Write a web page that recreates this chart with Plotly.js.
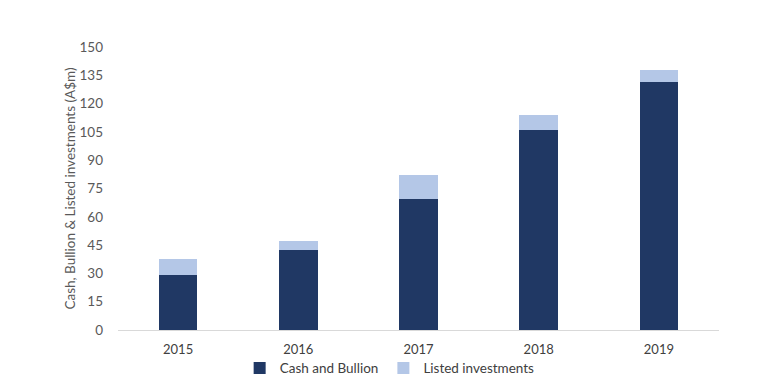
<!DOCTYPE html>
<html>
<head>
<meta charset="utf-8">
<script src="https://cdn.plot.ly/plotly-3.0.1.min.js"></script>
<style>html,body{margin:0;padding:0;background:#fff;}#chart{width:763px;height:380px;}</style>
</head>
<body>
<div id="chart"></div>
<script>
const years = ["2015", "2016", "2017", "2018", "2019"];
const cashAndBullion = [29.4, 42.5, 69.5, 106.1, 131.2];
const listedInvestments = [8.0, 4.9, 12.4, 7.9, 6.8];
const yTicks = [0, 15, 30, 45, 60, 75, 90, 105, 120, 135, 150];

const font = "Lato, 'Open Sans', sans-serif";
const data = [
  {type: "bar", name: "Cash and Bullion", x: years, y: cashAndBullion,
   marker: {color: "#203864"}, hoverinfo: "none"},
  {type: "bar", name: "Listed investments", x: years, y: listedInvestments,
   marker: {color: "#B4C7E7"}, hoverinfo: "none"}
];
const layout = {
  width: 763, height: 380,
  margin: {l: 118, r: 44, t: 47, b: 50, autoexpand: false},
  barmode: "stack",
  bargap: 0.68,
  paper_bgcolor: "#fff", plot_bgcolor: "#fff",
  font: {family: font, size: 12, color: "#595959"},
  xaxis: {type: "category", showline: true, linecolor: "#D9D9D9", linewidth: 1,
    ticks: "", showgrid: false, ticklabelstandoff: 7,
    tickfont: {size: 13, color: "#404040"}},
  yaxis: {range: [0, 150], tickvals: yTicks, ticktext: yTicks.map(String),
    showgrid: false, zeroline: false, showline: false, ticks: "",
    ticklabelstandoff: 14,
    tickfont: {size: 13.5, color: "#595959"},
    title: {text: "Cash, Bullion & Listed investments (A$m)", font: {size: 13.5, color: "#595959"}, standoff: 0}},
  showlegend: true,
  legend: {orientation: "h", x: 0.452, xanchor: "center", y: -0.08, yanchor: "top",
    bgcolor: "rgba(0,0,0,0)",
    font: {size: 13.5, color: "#404040"}, traceorder: "normal", itemwidth: 30}
};
Plotly.newPlot("chart", data, layout, {displayModeBar: false, staticPlot: true});
</script>
</body>
</html>
